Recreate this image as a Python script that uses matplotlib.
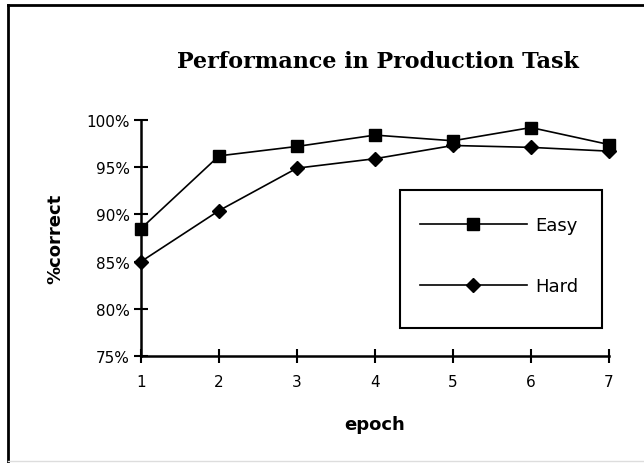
import matplotlib
matplotlib.use("Agg")
import matplotlib.pyplot as plt
from matplotlib.lines import Line2D
from matplotlib.patches import Rectangle

epochs = [1, 2, 3, 4, 5, 6, 7]
easy = [88.5, 96.2, 97.2, 98.4, 97.8, 99.2, 97.4]
hard = [85.0, 90.4, 94.9, 95.9, 97.3, 97.1, 96.7]
y_ticks = [75, 80, 85, 90, 95, 100]
y_labels = ["75%", "80%", "85%", "90%", "95%", "100%"]

W, H = 644, 464
fig = plt.figure(figsize=(W / 100, H / 100), dpi=100)
ax = fig.add_axes([141 / W, 1 - 357 / H, 468 / W, 236 / H])

ax.plot(epochs, easy, color="black", lw=1.2, marker="s", ms=9, clip_on=False, label="Easy")
ax.plot(epochs, hard, color="black", lw=1.2, marker="D", ms=7.5, clip_on=False, label="Hard")

ax.set_xlim(1, 7)
ax.set_ylim(75, 100)
ax.set_xticks(epochs)
ax.set_yticks(y_ticks)
ax.set_yticklabels(y_labels)
for s in ["top", "right"]:
    ax.spines[s].set_visible(False)
for s in ["left", "bottom"]:
    ax.spines[s].set_linewidth(1.8)
ax.tick_params(direction="inout", length=10, width=1.5, labelsize=11, pad=3)
ax.tick_params(axis="x", pad=8)

ax.set_xlabel("epoch", fontsize=13, fontweight="heavy", labelpad=19)
ax.set_ylabel("%correct", fontsize=13, fontweight="heavy", labelpad=16)
fig.text(378 / W, 1 - 62 / H, "Performance in Production Task", ha="center", va="center",
         fontsize=16, fontweight="bold", family="DejaVu Serif")

# legend box drawn separately, entries placed inside it
box = Rectangle((400 / W, 1 - 329 / H), 202 / W, 138 / H, transform=fig.transFigure,
                facecolor="white", edgecolor="black", lw=1.5, zorder=3, clip_on=False)
ax.add_patch(box)
leg = ax.legend(loc="upper left", bbox_to_anchor=(420 / W, 1 - 217 / H), bbox_transform=fig.transFigure,
                fontsize=13, handlelength=5.9, labelspacing=2.4, borderpad=0, handletextpad=0.5,
                borderaxespad=0, frameon=False)
leg.set_zorder(5)

# outer frame
fig.add_artist(Line2D([8 / W, 8 / W], [0, 1 - 6 / H], color="black", lw=2, transform=fig.transFigure))
fig.add_artist(Line2D([8 / W, 1], [1 - 6 / H, 1 - 6 / H], color="black", lw=2, transform=fig.transFigure))
fig.add_artist(Line2D([8 / W, 1], [2 / H, 2 / H], color="#dddddd", lw=1, transform=fig.transFigure))

fig.savefig("out.png", dpi=100)
